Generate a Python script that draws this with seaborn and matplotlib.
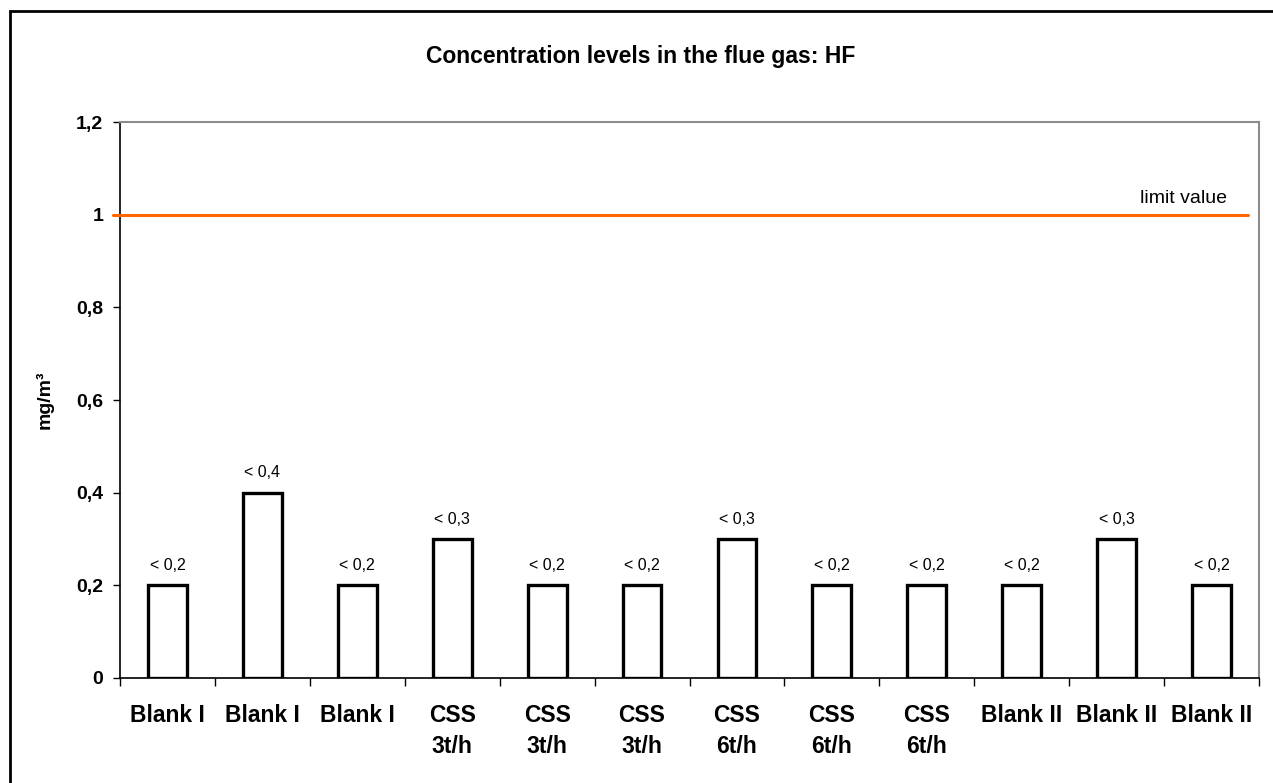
import matplotlib
matplotlib.use("Agg")
import matplotlib.pyplot as plt
import matplotlib.transforms as mtransforms
from matplotlib.patches import Rectangle
import seaborn as sns
import pandas as pd

# Measurement runs and HF concentrations (upper bounds, mg/m³)
runs = ["Blank I", "Blank I", "Blank I", "CSS\n3t/h", "CSS\n3t/h", "CSS\n3t/h",
        "CSS\n6t/h", "CSS\n6t/h", "CSS\n6t/h", "Blank II", "Blank II", "Blank II"]
values = [0.2, 0.4, 0.2, 0.3, 0.2, 0.2, 0.3, 0.2, 0.2, 0.2, 0.3, 0.2]
value_labels = ["< 0,2", "< 0,4", "< 0,2", "< 0,3", "< 0,2", "< 0,2",
                "< 0,3", "< 0,2", "< 0,2", "< 0,2", "< 0,3", "< 0,2"]
limit_value = 1.0
y_ticks = [0, 0.2, 0.4, 0.6, 0.8, 1.0, 1.2]
y_tick_labels = ["0", "0,2", "0,4", "0,6", "0,8", "1", "1,2"]

sns.set_theme(style="white")
plt.rcParams["font.family"] = ["Liberation Sans", "DejaVu Sans"]
plt.rcParams.update({
    "text.color": "black",
    "axes.labelcolor": "black",
    "xtick.color": "black",
    "ytick.color": "black",
})

df = pd.DataFrame({"run": list(range(len(runs))), "value": values})

W, H = 1273, 783
fig = plt.figure(figsize=(W / 100, H / 100), dpi=100)
fig.patch.set_facecolor("white")
ax = fig.add_axes([120 / W, 1 - 678 / H, (1259 - 120) / W, (678 - 122) / H])

sns.barplot(data=df, x="run", y="value", ax=ax, color="white",
            edgecolor="black", linewidth=2.4, width=0.41, saturation=1)

# value labels above bars
for i, (v, lab) in enumerate(zip(values, value_labels)):
    ax.annotate(lab, xy=(i, v), xytext=(0, 11), textcoords="offset points",
                ha="center", va="baseline", fontsize=11.5, color="black")

# limit line
ax.axhline(limit_value, xmin=-0.006, xmax=0.990, color="#FF6600", lw=2.2,
           clip_on=False, zorder=3)
trans = mtransforms.blended_transform_factory(ax.transAxes, ax.transData)
ax.text(0.972, limit_value + 0.026, "limit value", transform=trans,
        ha="right", va="baseline", fontsize=14, color="black")

# axes limits and ticks
ax.set_xlim(-0.5, len(runs) - 0.5)
ax.set_ylim(0, 1.2)
ax.set_yticks(y_ticks)
ax.set_yticklabels(y_tick_labels, fontsize=14, fontweight="bold")
ax.tick_params(axis="y", direction="out", length=5, width=1, color="black", pad=7, left=True)

ax.set_xticks([i - 0.5 for i in range(len(runs) + 1)])
ax.set_xticklabels([])
ax.set_xticks(list(range(len(runs))), minor=True)
ax.set_xticklabels(runs, minor=True, fontsize=16.5, fontweight="bold", linespacing=1.45)
ax.tick_params(axis="x", which="major", direction="out", length=6, width=1,
               color="black", bottom=True)
ax.tick_params(axis="x", which="minor", length=0, pad=19, bottom=True)

ax.set_xlabel("")
ax.set_ylabel("mg/m³", fontsize=14, fontweight="bold", labelpad=16)

for side in ["left", "bottom"]:
    ax.spines[side].set_color("black")
    ax.spines[side].set_linewidth(1.2)
for side in ["top", "right"]:
    ax.spines[side].set_visible(True)
    ax.spines[side].set_color("#8c8c8c")
    ax.spines[side].set_linewidth(1.5)
ax.grid(False)

fig.text(0.503, 1 - 56 / H, "Concentration levels in the flue gas: HF",
         ha="center", va="center", fontsize=16.5, fontweight="bold")

# chart frame
fig.patches.append(Rectangle((10 / W, -0.1), 1.2, 1 - 11 / H + 0.1,
                             transform=fig.transFigure, fill=False,
                             edgecolor="black", lw=2, zorder=10))

fig.savefig("out.png", dpi=100)
